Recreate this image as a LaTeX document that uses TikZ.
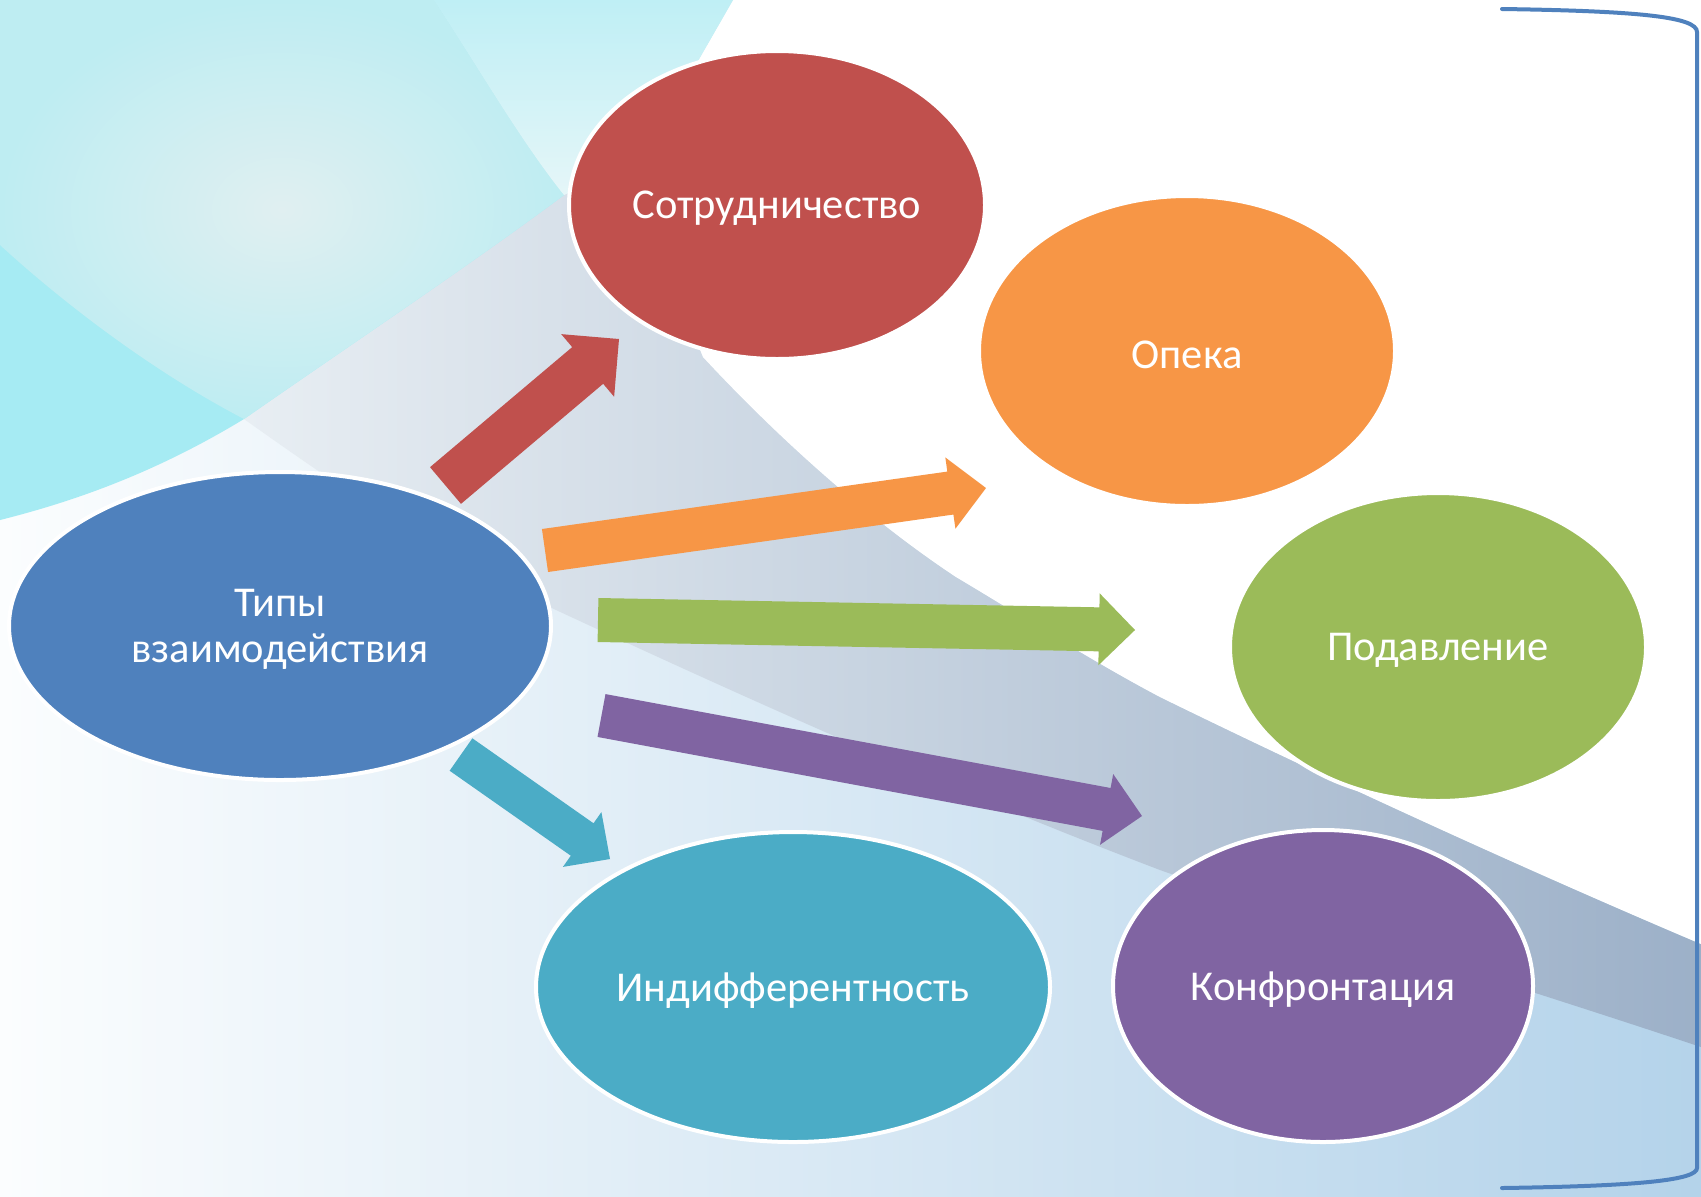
\documentclass[tikz,border=0pt]{standalone}
\usepackage{fontspec}
\setmainfont{Carlito}
\usetikzlibrary{shapes.geometric,calc}
\definecolor{cBlue}{HTML}{4F81BD}
\definecolor{cRed}{HTML}{C0504D}
\definecolor{cOrange}{HTML}{F79646}
\definecolor{cGreen}{HTML}{9BBB59}
\definecolor{cTeal}{HTML}{4BACC6}
\definecolor{cPurple}{HTML}{8064A2}
\definecolor{bgCyan}{HTML}{A6EBF3}
\definecolor{bgPaleIn}{HTML}{E0EFF1}
\definecolor{bgPaleOut}{HTML}{BEEDF2}
\definecolor{bgSlTop}{HTML}{BFEFF5}
\definecolor{bgSlBot}{HTML}{E6F6F8}
\definecolor{bgGrayL}{HTML}{E8EEF3}
\definecolor{bgGrayR}{HTML}{9CB0C8}
\definecolor{bgBaseL}{HTML}{FBFDFE}
\definecolor{bgBaseR}{HTML}{B4D3EA}
\tikzset{
  bub/.style={ellipse, draw=white, line width=2pt, inner sep=0pt},
  txt/.style={text=white, font=\fontsize{21.25pt}{23.3pt}\selectfont, align=center,
    inner sep=0pt, yshift=-1.75pt},
}
\newcommand\blockarrow[6]{%
  \coordinate (ba-n) at ($(#3)!#6!(#2)$);
  \fill[#1] ($(#2)!#4!90:(#3)$) -- ($(ba-n)!#4!90:(#3)$) -- ($(ba-n)!#5!90:(#3)$)
    -- (#3) -- ($(ba-n)!#5!-90:(#3)$) -- ($(ba-n)!#4!-90:(#3)$)
    -- ($(#2)!#4!-90:(#3)$) -- cycle;
}
\begin{document}
\begin{tikzpicture}[x=0.5pt,y=-0.5pt]
\useasboundingbox (0,0) rectangle (1701,1196);
\clip (0,0) rectangle (1701,1196);
% background
\shade[left color=bgBaseL, right color=bgBaseR] (0,0) rectangle (1701,1196);
\shade[left color=bgGrayL, right color=bgGrayR]
  (244,419) .. controls (350,345) and (470,265) .. (564,195) -- (640,160) -- (665,260) -- (703,357)
  .. controls (780,440) and (870,520) .. (956,577)
  .. controls (1020,615) and (1090,660) .. (1160,697)
  .. controls (1350,790) and (1550,880) .. (1701,944) -- (1701,1047)
  .. controls (1500,980) and (1300,920) .. (1160,870)
  .. controls (950,790) and (750,700) .. (556,610)
  .. controls (430,550) and (330,480) .. (244,419) -- cycle;
\fill[white] (733,0) -- (1701,0) -- (1701,944)
  .. controls (1550,880) and (1350,790) .. (1160,697)
  .. controls (1090,660) and (1020,615) .. (956,577)
  .. controls (870,520) and (780,440) .. (703,357) -- (680,300) -- (665,200) -- (690,75) -- cycle;
\fill[bgCyan] (0,0) -- (434,0) .. controls (480,70) and (520,140) .. (564,195)
  .. controls (470,265) and (350,345) .. (244,419)
  .. controls (160,470) and (80,500) .. (0,520) -- cycle;
\shade[inner color=bgPaleIn, outer color=bgPaleOut] (0,0) -- (434,0) .. controls (480,70) and (520,140) .. (564,195)
  .. controls (470,265) and (350,345) .. (244,419)
  .. controls (150,370) and (60,300) .. (0,245) -- cycle;
\shade[top color=bgSlTop, bottom color=bgSlBot] (434,0) -- (733,0) -- (690,75) -- (665,200) -- (640,160) -- (564,195)
  .. controls (520,140) and (480,70) .. (434,0) -- cycle;
% bracket
\draw[cBlue, line width=2pt, line cap=round] (1502,9) .. controls (1640,11) and (1697,17) .. (1697,32)
  -- (1697,1168) .. controls (1697,1180) and (1640,1186) .. (1502,1188);
% nodes
\node[bub, fill=cBlue, minimum width=271pt, minimum height=154pt,
  label={[txt]center:Типы\\взаимодействия}] (types) at (280,626) {};
\node[bub, fill=cRed, minimum width=208pt, minimum height=154pt,
  label={[txt]center:Сотрудничество}] (coop) at (777,205) {};
\node[bub, fill=cOrange, minimum width=208pt, minimum height=155pt,
  label={[txt]center:Опека}] (care) at (1187,351) {};
\node[bub, fill=cGreen, minimum width=208pt, minimum height=154pt,
  label={[txt]center:Подавление}] (supp) at (1438,647) {};
\node[bub, fill=cTeal, minimum width=257pt, minimum height=155pt,
  label={[txt]center:Индифферентность}] (indif) at (793,987) {};
\node[bub, fill=cPurple, minimum width=210pt, minimum height=156pt,
  label={[txt]center:Конфронтация}] (conf) at (1323,986) {};
% arrows
\coordinate (t1) at (445.5,485.5); \coordinate (p1) at (619,339);
\coordinate (t2) at (545,550.5);   \coordinate (p2) at (986,488);
\coordinate (t3) at (598,620);     \coordinate (p3) at (1135,630);
\coordinate (t4) at (601.5,715.5); \coordinate (p4) at (1142,816);
\coordinate (t5) at (461,754.5);   \coordinate (p5) at (610,859);
\blockarrow{cRed}{t1}{p1}{12pt}{20.5pt}{20.5pt}
\blockarrow{cOrange}{t2}{p2}{10.85pt}{18pt}{18pt}
\blockarrow{cGreen}{t3}{p3}{11pt}{18pt}{18pt}
\blockarrow{cPurple}{t4}{p4}{10.9pt}{18pt}{18pt}
\blockarrow{cTeal}{t5}{p5}{9.9pt}{16.75pt}{17pt}
\end{tikzpicture}
\end{document}
